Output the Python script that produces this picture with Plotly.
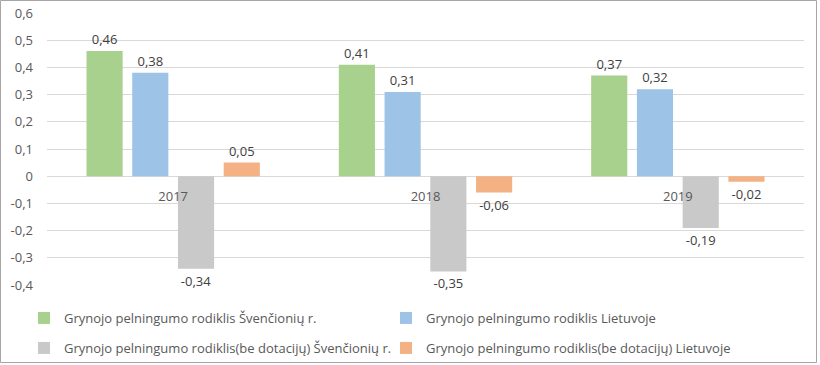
import plotly.graph_objects as go

categories = ["2017", "2018", "2019"]
series_names = [
    "Grynojo pelningumo rodiklis Švenčionių r.",
    "Grynojo pelningumo rodiklis Lietuvoje",
    "Grynojo pelningumo rodiklis(be dotacijų) Švenčionių r.",
    "Grynojo pelningumo rodiklis(be dotacijų) Lietuvoje",
]
sv_values = [0.46, 0.41, 0.37]
lt_values = [0.38, 0.31, 0.32]
sv_nodot_values = [-0.34, -0.35, -0.19]
lt_nodot_values = [0.05, -0.06, -0.02]
series_values = [sv_values, lt_values, sv_nodot_values, lt_nodot_values]
colors = ["#a9d18e", "#9dc3e6", "#c9c9c9", "#f4b183"]
legend_ids = ["legend", "legend", "legend2", "legend2"]

y_min, y_max = -0.4, 0.6
tick_vals = [0.6, 0.5, 0.4, 0.3, 0.2, 0.1, 0, -0.1, -0.2, -0.3, -0.4]
tick_text = ["0,6", "0,5", "0,4", "0,3", "0,2", "0,1", "0", "-0,1", "-0,2", "-0,3", "-0,4"]

FONT = "Open Sans"
fig = go.Figure()
for name, vals, col, lg in zip(series_names, series_values, colors, legend_ids):
    fig.add_trace(go.Bar(
        x=categories, y=vals, name=name, marker_color=col, marker_line_width=0,
        texttemplate="%{y:.2f}", textposition="outside", cliponaxis=False,
        textfont=dict(family=FONT, size=13, color="#404040"),
        legend=lg,
    ))

W, H = 820, 365
ml, mr, mt, mb = 47, 16, 13, 80
pw, ph = W - ml - mr, H - mt - mb
fig.add_shape(type="rect", xref="paper", yref="paper",
              x0=(0.5 - ml) / pw, x1=1 + (mr - 3.5) / pw,
              y0=-(mb - 2.5) / ph, y1=1 + (mt - 0.5) / ph,
              line=dict(color="#a6a6a6", width=1), layer="below")

leg_common = dict(orientation="h", xanchor="left", yanchor="middle",
                  x=(24 - ml) / pw, entrywidth=317, entrywidthmode="pixels",
                  font=dict(family=FONT, size=13, color="#595959"),
                  bgcolor="rgba(0,0,0,0)", itemclick=False)
fig.update_layout(
    width=W, height=H, margin=dict(l=ml, r=mr, t=mt, b=mb, autoexpand=False),
    paper_bgcolor="white", plot_bgcolor="white",
    separators=",.",
    barmode="group", bargap=0.275, bargroupgap=0.21,
    showlegend=True, hovermode=False,
    legend=dict(**leg_common, y=-(318 - 285) / ph),
    legend2=dict(**leg_common, y=-(348 - 285) / ph),
    xaxis=dict(type="category", anchor="free", position=(0 - y_min) / (y_max - y_min),
               showticklabels=True, showgrid=False, zeroline=False,
               showline=False, ticks="", automargin=False, ticklabelstandoff=11,
               tickfont=dict(family=FONT, size=13, color="#595959")),
    yaxis=dict(range=[y_min, y_max], tickvals=tick_vals, ticktext=tick_text, automargin=False,
               showgrid=True, gridcolor="#d9d9d9", gridwidth=1,
               zeroline=True, zerolinecolor="#d9d9d9", zerolinewidth=1,
               showline=False, ticks="", ticklabelstandoff=13,
               tickfont=dict(family=FONT, size=13, color="#595959")),
)
fig.write_html("out.html", config={"displayModeBar": False},
               post_script="document.body.style.margin='0px';")
